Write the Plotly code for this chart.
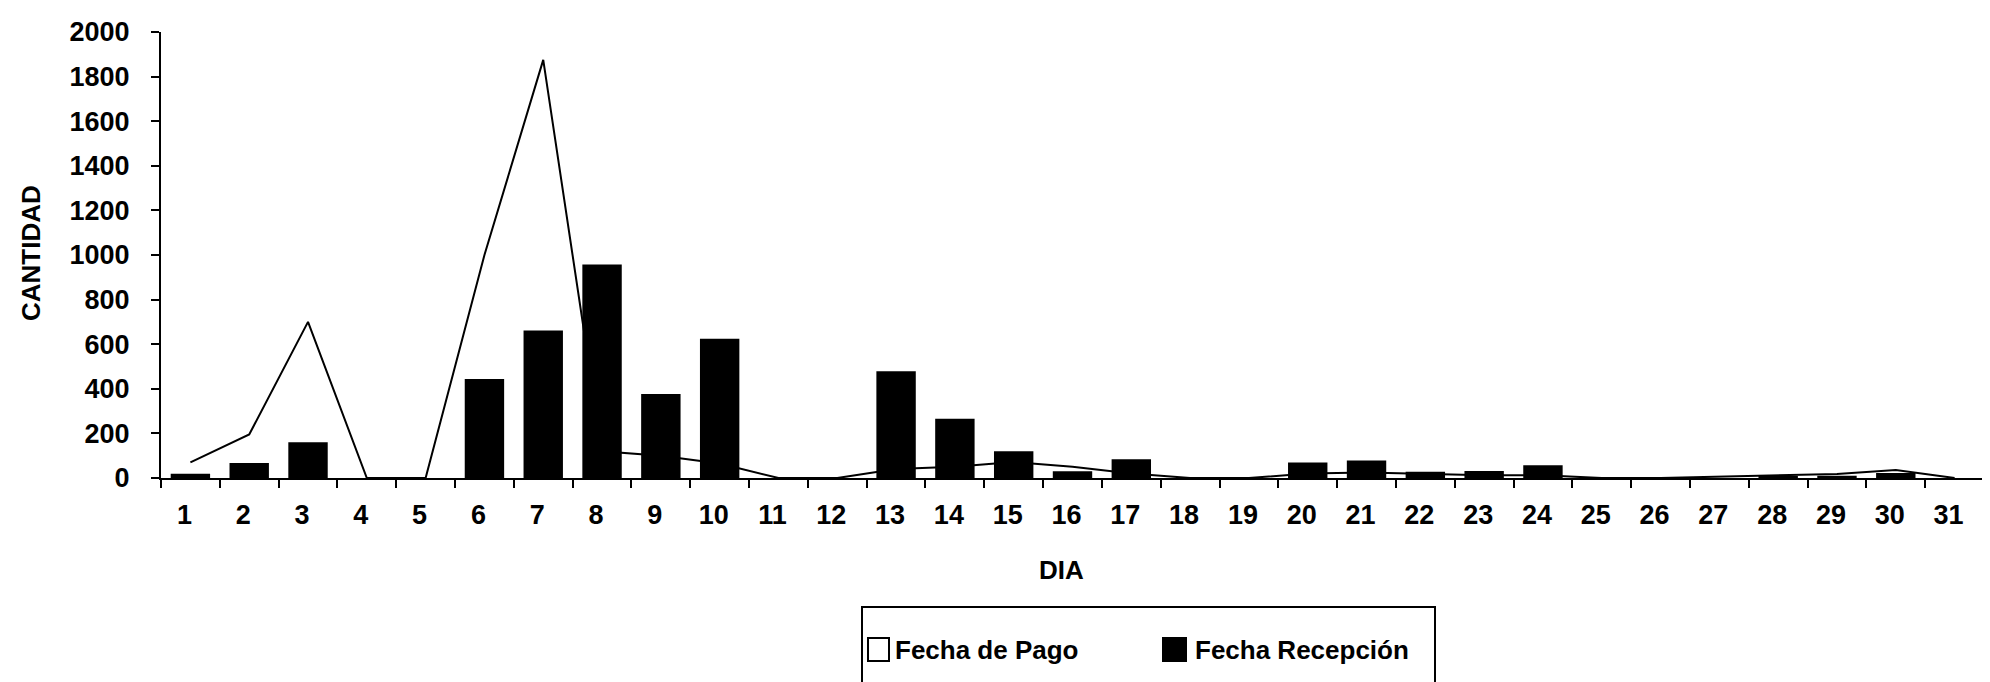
import plotly.graph_objects as go

dias = [str(d) for d in range(1, 32)]
fecha_pago = [70, 195, 700, 0, 0, 1000, 1875, 120, 100, 65, 0, 0, 40, 50, 72,
              50, 20, 0, 0, 20, 25, 20, 12, 12, 0, 0, 5, 10, 18, 36, 0]
fecha_recepcion = [19, 67, 160, 0, 0, 444, 661, 957, 377, 625, 0, 0, 479, 266, 120,
                   30, 84, 0, 0, 70, 78, 28, 31, 57, 0, 0, 0, 5, 10, 22, 0]
y_ticks = list(range(0, 2001, 200))

FONT = "Liberation Sans, Arial, sans-serif"
W, H = 1990, 682
L, R, T, B = 153, 1976, 24, 470

fig = go.Figure()
fig.add_trace(go.Bar(
    x=dias, y=fecha_recepcion, name="Fecha Recepción",
    marker=dict(color="black", line=dict(width=0)), showlegend=False))
fig.add_trace(go.Scatter(
    x=dias, y=fecha_pago, name="Fecha de Pago", mode="lines",
    line=dict(color="black", width=2), showlegend=False))

fig.update_layout(
    width=W, height=H,
    margin=dict(l=L, r=W - R, t=T, b=H - B),
    paper_bgcolor="white", plot_bgcolor="white",
    bargap=0.33,
    font=dict(family=FONT, color="black"),
    xaxis=dict(
        type="category", automargin=False, showline=True, linecolor="black", linewidth=2,
        ticks="outside", tickson="boundaries", ticklen=8, tickwidth=2, tickcolor="black",
        tickfont=dict(size=27, family=FONT, weight="bold"), ticklabelstandoff=12,
        ticklabelshift=-6,
        showgrid=False, zeroline=False,
    ),
    yaxis=dict(
        range=[0, 2000], tickvals=y_ticks, automargin=False, showline=True,
        linecolor="black", linewidth=2,
        ticks="outside", ticklen=8, tickwidth=2, tickcolor="black",
        tickfont=dict(size=27, family=FONT, weight="bold"), ticklabelstandoff=16,
        showgrid=False, zeroline=False,
    ),
)


def xp(x):
    return (x - L) / (R - L)


def yp(y):
    return (B - y) / (B - T)


# axis titles
fig.add_annotation(xref="paper", yref="paper", x=xp(23), y=yp(245), textangle=-90,
                   showarrow=False, text="CANTIDAD", xanchor="center", yanchor="middle",
                   font=dict(size=26, family=FONT, weight="bold"))
fig.add_annotation(xref="paper", yref="paper", x=xp(1053), y=yp(562),
                   showarrow=False, text="DIA", xanchor="center", yanchor="middle",
                   font=dict(size=26, family=FONT, weight="bold"))

# boxed legend as in the original chart
fig.add_shape(type="rect", xref="paper", yref="paper",
              x0=xp(854), x1=xp(1427), y0=yp(678), y1=yp(599),
              line=dict(color="black", width=2), fillcolor="white")
fig.add_shape(type="rect", xref="paper", yref="paper",
              x0=xp(860), x1=xp(881), y0=yp(653), y1=yp(630),
              line=dict(color="black", width=2), fillcolor="white")
fig.add_shape(type="rect", xref="paper", yref="paper",
              x0=xp(1155), x1=xp(1178), y0=yp(653), y1=yp(630),
              line=dict(color="black", width=2), fillcolor="black")
fig.add_annotation(xref="paper", yref="paper", x=xp(885), y=yp(642), xanchor="left",
                   yanchor="middle", showarrow=False, text="Fecha de Pago",
                   font=dict(size=26, family=FONT, weight="bold"))
fig.add_annotation(xref="paper", yref="paper", x=xp(1185), y=yp(642), xanchor="left",
                   yanchor="middle", showarrow=False, text="Fecha Recepción",
                   font=dict(size=26, family=FONT, weight="bold"))

fig.write_html("out.html")
